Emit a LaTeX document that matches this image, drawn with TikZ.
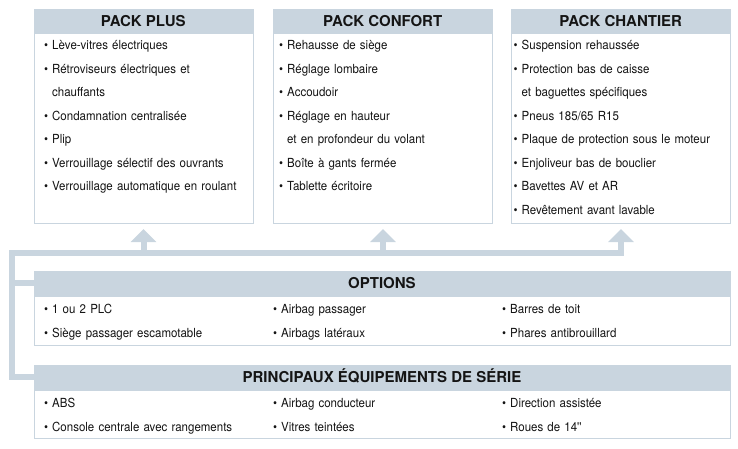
\documentclass[tikz,border=0pt]{standalone}
\usepackage{fontspec}
\setmainfont{TeX Gyre Heros}
\newfontfamily\condfont[FakeStretch=0.92]{TeX Gyre Heros}
\usepackage{tikz}
\usetikzlibrary{arrows.meta}
\definecolor{packBlue}{RGB}{201,213,223}
\definecolor{packText}{RGB}{20,20,20}
\tikzstyle{block} = [draw=packBlue,line width=1pt,rectangle,fill=white,inner sep=0pt,anchor=north west]
\tikzstyle{head} = [draw=packBlue,fill=packBlue,rectangle,inner sep=0pt,minimum height=24.5pt,anchor=north west,text=packText,text height=10.6pt,text depth=0pt,font=\bfseries\fontsize{15}{17}\selectfont]
\tikzstyle{item} = [text width=205pt,inner sep=0pt,align=left,text=packText,text height=11.5pt,text depth=3pt,font=\condfont\fontsize{12.5}{14}\selectfont]
\tikzstyle{busLine} = [draw=packBlue,line width=6pt]
\tikzstyle{arrowLine} = [busLine,-{Triangle[width=25pt,length=13pt]},shorten >=5.5pt]
\newcommand{\puce}{\makebox[8pt][l]{\textbullet}}
\newcommand{\suite}{\hspace*{8pt}}

\begin{document}
\begin{tikzpicture}[x=1pt,y=-1pt,node distance=23.5pt]
		\useasboundingbox (0,0) rectangle (738,448);
		%packs
		\node[block,minimum width=219pt,minimum height=214pt](plus) at (33.5,8.5){};
		\node[head,minimum width=219pt](plusHead) at (plus.north west){PACK PLUS};
		\node[block,minimum width=219pt,minimum height=214pt](confort) at (273,8.5){};
		\node[head,minimum width=219pt](confortHead) at (confort.north west){PACK CONFORT};
		\node[block,minimum width=219pt,minimum height=214pt](chantier) at (511,8.5){};
		\node[head,minimum width=219pt](chantierHead) at (chantier.north west){PACK CHANTIER};
		%options and serie
		\node[block,minimum width=696.5pt,minimum height=73.5pt](options) at (33.5,271){};
		\node[head,minimum width=696.5pt](optionsHead) at (options.north west){OPTIONS};
		\node[block,minimum width=696.5pt,minimum height=72.5pt](serie) at (33.5,365){};
		\node[head,minimum width=696.5pt](serieHead) at (serie.north west){PRINCIPAUX ÉQUIPEMENTS DE SÉRIE};
		%pack plus items
		\node[item,anchor=west](plus1) at (44,45.7){\puce Lève-vitres électriques};
		\node[item,below of=plus1](plus2){\puce Rétroviseurs électriques et};
		\node[item,below of=plus2](plus3){\suite chauffants};
		\node[item,below of=plus3](plus4){\puce Condamnation centralisée};
		\node[item,below of=plus4](plus5){\puce Plip};
		\node[item,below of=plus5](plus6){\puce Verrouillage sélectif des ouvrants};
		\node[item,below of=plus6](plus7){\puce Verrouillage automatique en roulant};
		%pack confort items
		\node[item,anchor=west](confort1) at (279,45.7){\puce Rehausse de siège};
		\node[item,below of=confort1](confort2){\puce Réglage lombaire};
		\node[item,below of=confort2](confort3){\puce Accoudoir};
		\node[item,below of=confort3](confort4){\puce Réglage en hauteur};
		\node[item,below of=confort4](confort5){\suite et en profondeur du volant};
		\node[item,below of=confort5](confort6){\puce Boîte à gants fermée};
		\node[item,below of=confort6](confort7){\puce Tablette écritoire};
		%pack chantier items
		\node[item,anchor=west](chantier1) at (513.5,45.7){\puce Suspension rehaussée};
		\node[item,below of=chantier1](chantier2){\puce Protection bas de caisse};
		\node[item,below of=chantier2](chantier3){\suite et baguettes spécifiques};
		\node[item,below of=chantier3](chantier4){\puce Pneus 185/65 R15};
		\node[item,below of=chantier4](chantier5){\puce Plaque de protection sous le moteur};
		\node[item,below of=chantier5](chantier6){\puce Enjoliveur bas de bouclier};
		\node[item,below of=chantier6](chantier7){\puce Bavettes AV et AR};
		\node[item,below of=chantier7](chantier8){\puce Revêtement avant lavable};
		%options items
		\node[item,anchor=west](opt1) at (44,309.3){\puce 1 ou 2 PLC};
		\node[item,below of=opt1,node distance=24pt](opt2){\puce Siège passager escamotable};
		\node[item,right of=opt1,node distance=229pt](opt3){\puce Airbag passager};
		\node[item,below of=opt3,node distance=24pt](opt4){\puce Airbags latéraux};
		\node[item,right of=opt3,node distance=229pt](opt5){\puce Barres de toit};
		\node[item,below of=opt5,node distance=24pt](opt6){\puce Phares antibrouillard};
		%serie items
		\node[item,anchor=west](serie1) at (44,403.3){\puce ABS};
		\node[item,below of=serie1](serie2){\puce Console centrale avec rangements};
		\node[item,right of=serie1,node distance=229pt](serie3){\puce Airbag conducteur};
		\node[item,below of=serie3](serie4){\puce Vitres teintées};
		\node[item,right of=serie3,node distance=229pt](serie5){\puce Direction assistée};
		\node[item,below of=serie5](serie6){\puce Roues de 14''};
		%arrows
		\coordinate (bus) at (12,253);
		\path[arrowLine](serieHead.west) -| (bus) -| (chantier.south);
		\path[busLine](bus |- optionsHead.west)--(optionsHead.west);
		\path[arrowLine](bus -| plus.south)--(plus.south);
		\path[arrowLine](bus -| confort.south)--(confort.south);
	\end{tikzpicture}
\end{document}
